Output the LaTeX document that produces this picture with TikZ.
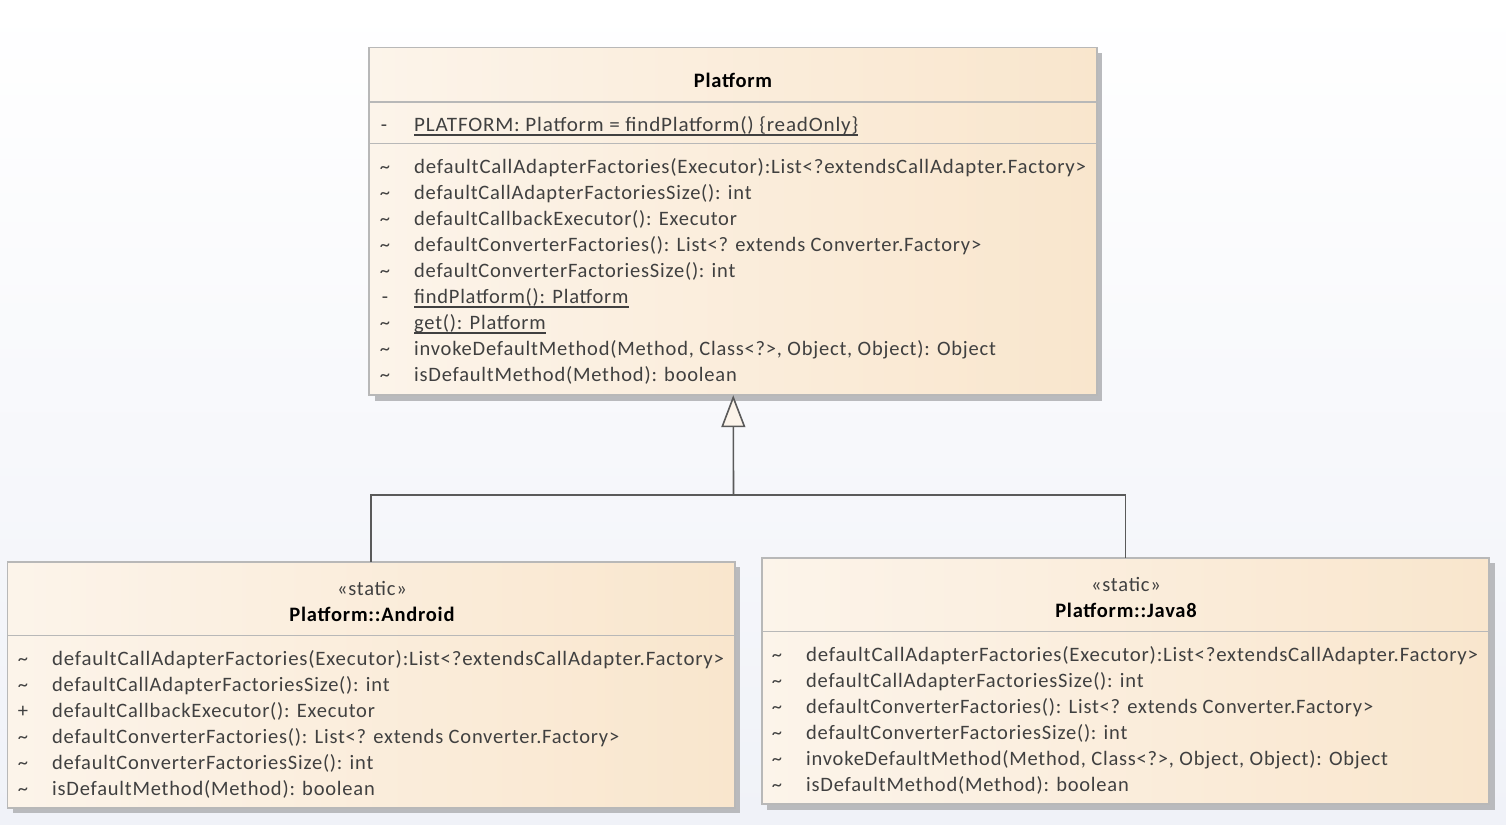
\documentclass[tikz,border=0pt]{standalone}
\usepackage{fontspec}
\usepackage{graphicx}
\setmainfont{Carlito}[LetterSpace=3.8]
\usetikzlibrary{arrows.meta}
\definecolor{bgbot}{HTML}{F0F2F8}
\definecolor{boxl}{HTML}{FCF4EA}
\definecolor{boxr}{HTML}{F9E6CD}
\definecolor{boxline}{HTML}{B8B8B8}
\definecolor{shadowc}{HTML}{B9BABD}
\definecolor{txt}{HTML}{404040}
\definecolor{conn}{HTML}{5A5A5A}
\newcommand\ul[1]{\setbox0\hbox{#1}\rlap{\raisebox{-4.6pt}{\rule{\wd0}{1.7pt}}}\box0}
\newcommand\tl{\textasciitilde}
\tikzset{
  x=1pt,y=-1pt,
  classbox/.style={draw=boxline,line width=1.6pt,left color=boxl,right color=boxr,rectangle,inner sep=0pt},
  sep/.style={draw=boxline,line width=1.6pt},
  shadowbox/.style={fill=shadowc,draw=none},
  mem/.style={anchor=base west,inner sep=0pt,text=txt,font=\fontsize{20.5}{22}\selectfont},
  sgn/.style={anchor=base,inner sep=0pt,text=txt,font=\fontsize{20.5}{22}\selectfont},
  ttl/.style={anchor=base,inner sep=0pt,text=black,font=\fontsize{20.5}{22}\selectfont\bfseries},
  stereo/.style={anchor=base,inner sep=0pt,text=txt,font=\fontsize{20.5}{22}\selectfont},
  gen/.style={draw=conn,line width=1.6pt},
}
\begin{document}
\begin{tikzpicture}
\useasboundingbox (0,0) rectangle (1506,824);
\shade[top color=white,bottom color=bgbot] (0,0) rectangle (1506,824);
% shadows
\fill[shadowbox] (375,53) rectangle (1102,401);
\fill[shadowbox] (13,567) rectangle (740,813);
\fill[shadowbox] (767,563) rectangle (1495,810);
% boxes
\path[classbox] (369,47.5) rectangle (1097,395);
\path[classbox] (7.5,562) rectangle (735,808);
\path[classbox] (762,558) rectangle (1489,804);
\node[draw=none,inner sep=0pt,minimum width=727.5pt,minimum height=347.5pt] (platform) at (733.25,221.25) {};
\node[draw=none,inner sep=0pt,minimum width=727.5pt,minimum height=246pt] (android) at (371.25,685) {};
\node[draw=none,inner sep=0pt,minimum width=727pt,minimum height=246pt] (java) at (1125.5,681) {};
% separators
\draw[sep] (369,102) -- (1097,102);
\draw[sep] (369,143.5) -- (1097,143.5);
\draw[sep] (7.5,635.5) -- (735,635.5);
\draw[sep] (762,631.5) -- (1489,631.5);
% Platform text
\node[ttl] (pt) at (733,88) {Platform};
\node[sgn] (pa0) at (384,131.5) {-};
\node[mem] (pa) at (414,131.5) {\ul{\resizebox{444pt}{\height}{PLATFORM: Platform = findPlatform() \{readOnly\}}}};
\foreach \s/\t [count=\i from 0] in {
 {\tl}/{\resizebox{672pt}{\height}{defaultCallAdapterFactories(Executor):List<?extendsCallAdapter.Factory>}},
 {\tl}/{defaultCallAdapterFactoriesSize(): int},
 {\tl}/{defaultCallbackExecutor(): Executor},
 {\tl}/{defaultConverterFactories(): List<? extends Converter.Factory>},
 {\tl}/{defaultConverterFactoriesSize(): int},
 {-}/{\ul{findPlatform(): Platform}},
 {\tl}/{\ul{get(): Platform}},
 {\tl}/{invokeDefaultMethod(Method, Class<?>, Object, Object): Object},
 {\tl}/{isDefaultMethod(Method): boolean}}
{
 \node[sgn] (ps\i) at (385,173+26*\i) {\s};
 \node[mem] (pm\i) at (414,173+26*\i) {\t};
}
% Android text
\node[stereo] (as) at (372,595) {«static»};
\node[ttl] (at) at (372,621) {Platform::Android};
\foreach \s/\t [count=\i from 0] in {
 {\tl}/{\resizebox{672pt}{\height}{defaultCallAdapterFactories(Executor):List<?extendsCallAdapter.Factory>}},
 {\tl}/{defaultCallAdapterFactoriesSize(): int},
 {+}/{defaultCallbackExecutor(): Executor},
 {\tl}/{defaultConverterFactories(): List<? extends Converter.Factory>},
 {\tl}/{defaultConverterFactoriesSize(): int},
 {\tl}/{isDefaultMethod(Method): boolean}}
{
 \node[sgn] (as\i) at (23,665+26*\i) {\s};
 \node[mem] (am\i) at (52,665+26*\i) {\t};
}
% Java8 text
\node[stereo] (js) at (1126,591) {«static»};
\node[ttl] (jt) at (1126,617) {Platform::Java8};
\foreach \s/\t [count=\i from 0] in {
 {\tl}/{\resizebox{672pt}{\height}{defaultCallAdapterFactories(Executor):List<?extendsCallAdapter.Factory>}},
 {\tl}/{defaultCallAdapterFactoriesSize(): int},
 {\tl}/{defaultConverterFactories(): List<? extends Converter.Factory>},
 {\tl}/{defaultConverterFactoriesSize(): int},
 {\tl}/{invokeDefaultMethod(Method, Class<?>, Object, Object): Object},
 {\tl}/{isDefaultMethod(Method): boolean}}
{
 \node[sgn] (jsg\i) at (777,661+26*\i) {\s};
 \node[mem] (jm\i) at (806,661+26*\i) {\t};
}
% generalization
\coordinate (junc) at (733.5,495);
\draw[gen] (android.north) |- (junc);
\draw[gen] (java.north) |- (junc);
\draw[gen,-{Triangle[length=32pt,width=24pt,fill=boxl,line width=1.6pt]}] (junc) -- (platform.south);
\end{tikzpicture}
\end{document}
